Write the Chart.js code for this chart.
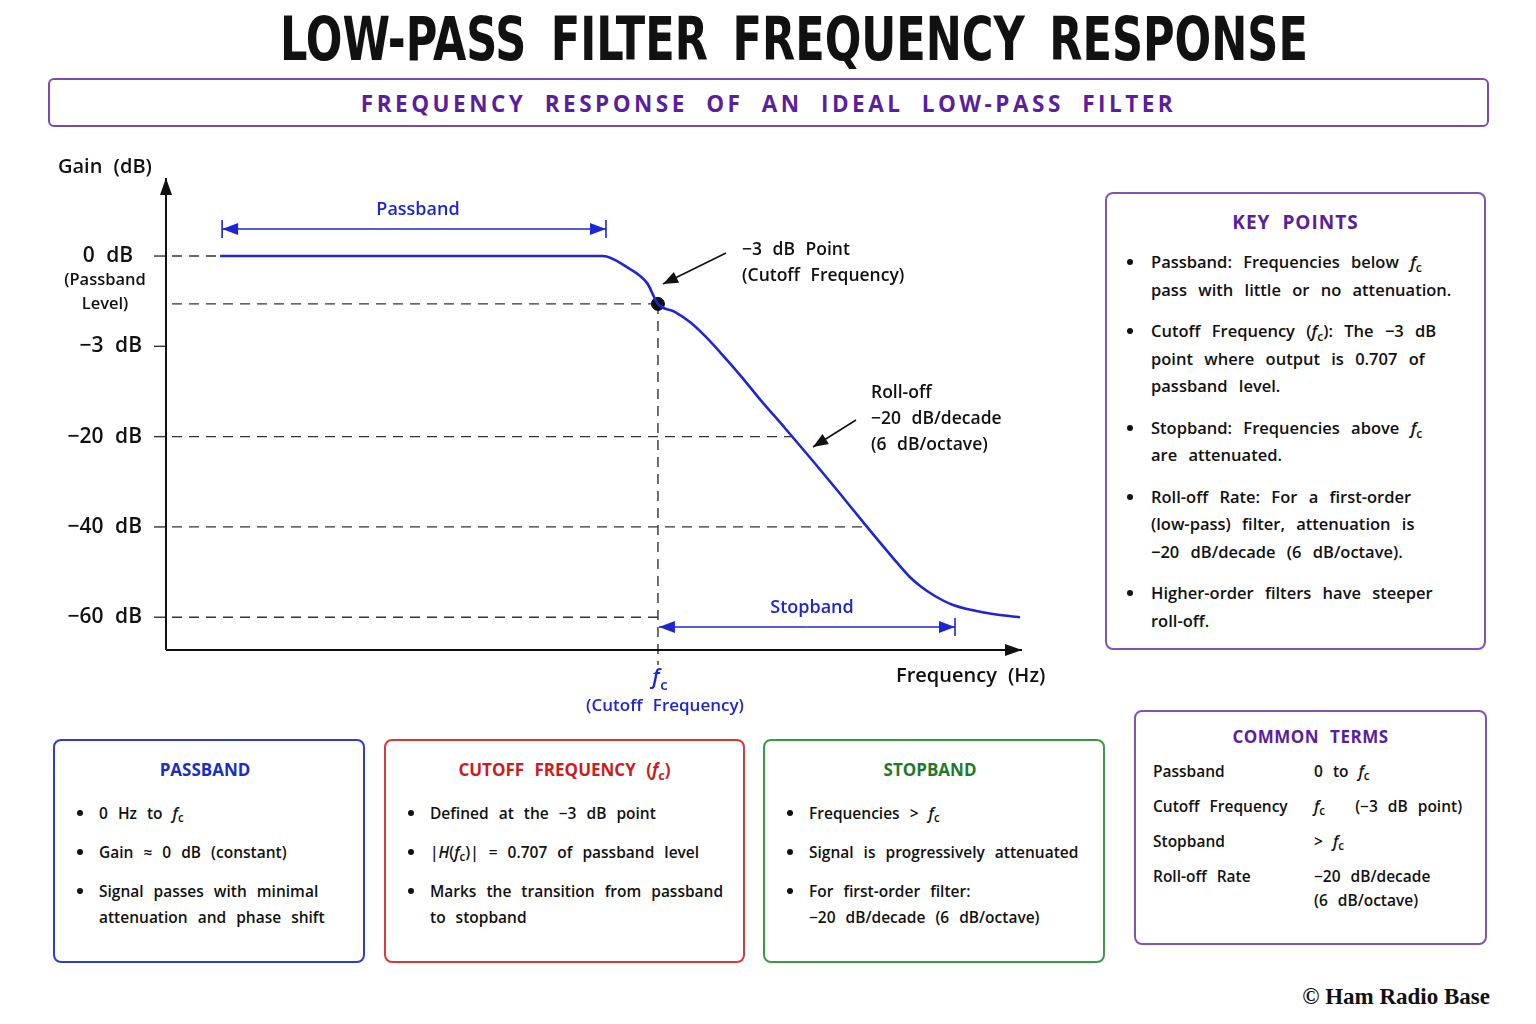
<!DOCTYPE html>
<html>
<head>
<meta charset="utf-8">
<script src="https://cdn.jsdelivr.net/npm/chart.js@4"></script>
<style>
  body { margin: 0; width: 1536px; height: 1024px; background: #fff; position: relative; overflow: hidden;
         font-family: "Open Sans", "Noto Sans", sans-serif; font-weight: 600; color: #111; word-spacing: 6px; }
  .abs { position: absolute; }
  #title { left: 280px; top: 4px; white-space: nowrap; font-family: "DejaVu Sans Condensed", "DejaVu Sans", sans-serif;
           font-stretch: condensed; font-weight: bold; font-size: 60px; line-height: 70px; color: #111; word-spacing: 12px;
           transform-origin: left top; }
  #sub { left: 48px; top: 78px; width: 1437px; height: 45px; border: 2px solid #7a4bb0; border-radius: 6px;
         text-align: center; line-height: 47px; font-size: 22.5px; font-weight: 700; color: #5a1e9e; letter-spacing: 3.5px; word-spacing: 9px; }
  .box { position: absolute; box-sizing: border-box; border: 2px solid; border-radius: 8px; background: #fff; }
  .box h3 { margin: 0; text-align: center; font-size: 17px; font-weight: 700; }
  .box ul { list-style: none; margin: 0; padding: 0; }
  .box li { position: relative; white-space: nowrap; }
  .box li::before { content: ""; position: absolute; width: 6px; height: 6px; border-radius: 50%; background: #111; }
  sub { font-size: 0.75em; vertical-align: -0.3em; line-height: 0; }
  i { font-style: italic; }
  #key { left: 1105px; top: 192px; width: 381px; height: 458px; border-color: #7f55b5; }
  #key h3 { color: #5a1e9e; font-size: 19px; margin-top: 16px; line-height: 24px; letter-spacing: 1px; }
  #key ul { margin-top: 14px; }
  #key li { padding-left: 44px; font-size: 16.5px; line-height: 27.5px; margin-bottom: 14px; word-spacing: 7px; }
  #key li::before { left: 20px; top: 11px; }
  #terms { left: 1134px; top: 710px; width: 353px; height: 235px; border-color: #7f55b5; }
  #terms h3 { color: #5a1e9e; margin-top: 14px; line-height: 22px; letter-spacing: 0.5px; }
  .row { display: flex; font-size: 15.5px; line-height: 24px; margin-left: 17px; white-space: nowrap; }
  .row .k { width: 161px; }
  .low { left: 0; top: 739px; height: 224px; }
  .low h3 { margin-top: 18px; line-height: 22px; }
  .low ul { margin-top: 19px; }
  .low li { padding-left: 44px; font-size: 15.5px; line-height: 26px; margin-bottom: 13px; }
  .low li::before { left: 22px; top: 10px; }
  #pb { left: 53px; width: 312px; border-color: #2a3fcf; }
  #pb h3 { color: #1a2fc0; margin-right: 8px; }
  #cf { left: 384px; width: 361px; border-color: #d63a3a; }
  #cf h3 { color: #c81e1e; }
  #sb { left: 763px; width: 342px; border-color: #3a9a48; }
  #sb h3 { color: #1e7a2a; margin-right: 8px; }
  #foot { right: 46px; top: 984px; font-family: "Liberation Serif", serif; font-weight: bold; font-size: 23px; word-spacing: 0; color: #111; }
  #chart { position: absolute; left: 0; top: 0; }
</style>
</head>
<body>
<div id="title" class="abs">LOW-PASS FILTER FREQUENCY RESPONSE</div>
<div id="sub" class="abs">FREQUENCY RESPONSE OF AN IDEAL LOW-PASS FILTER</div>

<canvas id="chart" width="1100" height="730"></canvas>

<div id="key" class="box">
  <h3>KEY POINTS</h3>
  <ul>
    <li>Passband: Frequencies below <i>f</i><sub>c</sub><br>pass with little or no attenuation.</li>
    <li>Cutoff Frequency (<i>f</i><sub>c</sub>): The −3 dB<br>point where output is 0.707 of<br>passband level.</li>
    <li>Stopband: Frequencies above <i>f</i><sub>c</sub><br>are attenuated.</li>
    <li>Roll-off Rate: For a first-order<br>(low-pass) filter, attenuation is<br>−20 dB/decade (6 dB/octave).</li>
    <li>Higher-order filters have steeper<br>roll-off.</li>
  </ul>
</div>

<div id="terms" class="box">
  <h3>COMMON TERMS</h3>
  <div style="height:11px"></div>
  <div class="row"><span class="k">Passband</span><span>0 to <i>f</i><sub>c</sub></span></div>
  <div style="height:11px"></div>
  <div class="row"><span class="k">Cutoff Frequency</span><span><i>f</i><sub>c</sub> &nbsp; (−3 dB point)</span></div>
  <div style="height:11px"></div>
  <div class="row"><span class="k">Stopband</span><span>&gt; <i>f</i><sub>c</sub></span></div>
  <div style="height:11px"></div>
  <div class="row"><span class="k">Roll-off Rate</span><span>−20 dB/decade<br>(6 dB/octave)</span></div>
</div>

<div id="pb" class="box low">
  <h3>PASSBAND</h3>
  <ul>
    <li>0 Hz to <i>f</i><sub>c</sub></li>
    <li>Gain ≈ 0 dB (constant)</li>
    <li>Signal passes with minimal<br>attenuation and phase shift</li>
  </ul>
</div>
<div id="cf" class="box low">
  <h3>CUTOFF FREQUENCY (<i>f</i><sub>c</sub>)</h3>
  <ul>
    <li>Defined at the −3 dB point</li>
    <li>|<i>H</i>(<i>f</i><sub>c</sub>)| = 0.707 of passband level</li>
    <li>Marks the transition from passband<br>to stopband</li>
  </ul>
</div>
<div id="sb" class="box low">
  <h3>STOPBAND</h3>
  <ul>
    <li>Frequencies &gt; <i>f</i><sub>c</sub></li>
    <li>Signal is progressively attenuated</li>
    <li>For first-order filter:<br>−20 dB/decade (6 dB/octave)</li>
  </ul>
</div>

<div id="foot" class="abs">© Ham Radio Base</div>

<script>
// frequency in units of f/fc, gain in dB
const FREQ = [0.110, 0.801, 0.888, 0.937, 0.978, 1.000, 1.035, 1.065, 1.096, 1.126, 1.167, 1.207, 1.258, 1.315, 1.364, 1.425, 1.478, 1.512, 1.533, 1.563, 1.600, 1.669, 1.736];
const GAIN_DB = [0, 0, 0, -0.37, -0.90, -1.59, -1.86, -2.19, -2.66, -4.07, -8.41, -12.93, -18.38, -25.40, -31.83, -40.0, -46.90, -51.10, -53.08, -55.30, -57.30, -59.07, -60.0];
const TICK_DB = [0, -3, -20, -40, -60];
const TICK_LABELS = ['0 dB', '−3 dB', '−20 dB', '−40 dB', '−60 dB'];
const CUTOFF_F = 1.0;
const CUTOFF_DB = -1.59;

const BLUE = '#1c26d2';
const FONT = '"Open Sans", "Noto Sans", sans-serif';

// the gain axis is schematic: each labelled dB value gets one equal step
function level(db) {
  let i = 0;
  while (i < TICK_DB.length - 2 && db < TICK_DB[i + 1]) i++;
  return -(i + (TICK_DB[i] - db) / (TICK_DB[i] - TICK_DB[i + 1]));
}

// frequency where the curve first falls to a given gain
function crossing(db) {
  for (let i = 0; i < GAIN_DB.length - 1; i++) {
    if (GAIN_DB[i] >= db && GAIN_DB[i + 1] <= db) {
      if (GAIN_DB[i] === GAIN_DB[i + 1]) return FREQ[i];
      return FREQ[i] + (GAIN_DB[i] - db) / (GAIN_DB[i] - GAIN_DB[i + 1]) * (FREQ[i + 1] - FREQ[i]);
    }
  }
  return FREQ[FREQ.length - 1];
}

function arrowHead(ctx, x1, y1, x2, y2, len, half) {
  const a = Math.atan2(y2 - y1, x2 - x1);
  ctx.beginPath();
  ctx.moveTo(x2, y2);
  ctx.lineTo(x2 - len * Math.cos(a) + half * Math.sin(a), y2 - len * Math.sin(a) - half * Math.cos(a));
  ctx.lineTo(x2 - len * Math.cos(a) - half * Math.sin(a), y2 - len * Math.sin(a) + half * Math.cos(a));
  ctx.closePath();
  ctx.fill();
}

function arrow(ctx, x1, y1, x2, y2, len, half) {
  ctx.beginPath();
  ctx.moveTo(x1, y1);
  ctx.lineTo(x2, y2);
  ctx.stroke();
  arrowHead(ctx, x1, y1, x2, y2, len, half);
}

function text(ctx, s, x, y, align, font, color) {
  ctx.font = font;
  ctx.fillStyle = color;
  ctx.textAlign = align;
  ctx.textBaseline = 'middle';
  ctx.fillText(s, x, y);
}

// dashed reference lines, drawn under the curve
const guides = {
  id: 'guides',
  beforeDatasetsDraw(chart) {
    const ctx = chart.ctx;
    const xs = chart.scales.x, ys = chart.scales.y;
    const x0 = xs.getPixelForValue(0);
    const fcx = xs.getPixelForValue(CUTOFF_F);
    const cy = ys.getPixelForValue(level(CUTOFF_DB));
    const ends = [xs.getPixelForValue(FREQ[0]), null, xs.getPixelForValue(crossing(-20)), xs.getPixelForValue(crossing(-40)), fcx];
    ctx.save();
    ctx.strokeStyle = '#333';
    ctx.lineWidth = 1.4;
    TICK_DB.forEach((db, i) => {
      const y = ys.getPixelForValue(level(db));
      ctx.setLineDash([]);
      ctx.beginPath(); ctx.moveTo(x0 - 12, y); ctx.lineTo(x0, y); ctx.stroke();
      if (ends[i] !== null) {
        ctx.setLineDash([10, 7]);
        ctx.beginPath(); ctx.moveTo(x0 + 6, y); ctx.lineTo(ends[i], y); ctx.stroke();
      }
    });
    ctx.setLineDash([10, 7]);
    ctx.beginPath(); ctx.moveTo(x0 + 6, cy); ctx.lineTo(fcx, cy); ctx.stroke();
    ctx.beginPath(); ctx.moveTo(fcx, cy); ctx.lineTo(fcx, chart.chartArea.bottom + 15); ctx.stroke();
    ctx.restore();
  }
};

// axes, arrows and labels
const notes = {
  id: 'notes',
  afterDraw(chart) {
    const ctx = chart.ctx;
    const xs = chart.scales.x, ys = chart.scales.y;
    const area = chart.chartArea;
    const x0 = xs.getPixelForValue(0);
    const fcx = xs.getPixelForValue(CUTOFF_F);
    ctx.save();
    ctx.wordSpacing = '6px';
    ctx.strokeStyle = '#111';
    ctx.fillStyle = '#111';
    ctx.lineWidth = 2;
    // axes
    arrow(ctx, x0, area.bottom, x0, area.top - 2, 17, 6);
    arrow(ctx, x0, area.bottom, area.right, area.bottom, 17, 6);
    text(ctx, 'Gain (dB)', 58, 167, 'left', '600 20px ' + FONT, '#111');
    text(ctx, 'Frequency (Hz)', 896, 676, 'left', '600 20px ' + FONT, '#111');

    // gain tick labels
    TICK_DB.forEach((db, i) => {
      const y = ys.getPixelForValue(level(db));
      if (i === 0) {
        text(ctx, TICK_LABELS[i], 108, y, 'center', '600 21px ' + FONT, '#111');
        text(ctx, '(Passband', 105, y + 24, 'center', '600 16.5px ' + FONT, '#111');
        text(ctx, 'Level)', 105, y + 48, 'center', '600 16.5px ' + FONT, '#111');
      } else {
        text(ctx, TICK_LABELS[i], 142, y, 'right', '600 21px ' + FONT, '#111');
      }
    });

    // passband / stopband spans
    ctx.strokeStyle = BLUE; ctx.fillStyle = BLUE; ctx.lineWidth = 1.6;
    const pL = xs.getPixelForValue(FREQ[0]) + 2, pR = 606, pY = 229;
    ctx.beginPath(); ctx.moveTo(pL, pY - 9); ctx.lineTo(pL, pY + 9); ctx.moveTo(pR, pY - 9); ctx.lineTo(pR, pY + 9); ctx.stroke();
    arrow(ctx, (pL + pR) / 2, pY, pL, pY, 16, 6);
    arrow(ctx, (pL + pR) / 2, pY, pR, pY, 16, 6);
    text(ctx, 'Passband', 418, 210, 'center', '600 18px ' + FONT, BLUE);

    const sR = 955, sY = 627;
    ctx.strokeStyle = BLUE; ctx.fillStyle = BLUE;
    ctx.beginPath(); ctx.moveTo(sR, sY - 9); ctx.lineTo(sR, sY + 9); ctx.stroke();
    arrow(ctx, (fcx + sR) / 2, sY, fcx + 1, sY, 16, 6);
    arrow(ctx, (fcx + sR) / 2, sY, sR, sY, 16, 6);
    text(ctx, 'Stopband', 812, 608, 'center', '600 18px ' + FONT, BLUE);

    // cutoff frequency label
    text(ctx, 'f', fcx - 2, 678, 'center', 'italic 600 21px ' + FONT, BLUE);
    text(ctx, 'c', fcx + 6, 686, 'center', '600 15px ' + FONT, BLUE);
    text(ctx, '(Cutoff Frequency)', 665, 706, 'center', '600 17px ' + FONT, BLUE);

    // callouts
    ctx.strokeStyle = '#111'; ctx.fillStyle = '#111'; ctx.lineWidth = 1.6;
    arrow(ctx, 726, 253, 663, 284, 15, 6);
    text(ctx, '−3 dB Point', 742, 250, 'left', '600 17.5px ' + FONT, '#111');
    text(ctx, '(Cutoff Frequency)', 742, 276, 'left', '600 17.5px ' + FONT, '#111');
    arrow(ctx, 856, 420, 813, 447, 15, 6);
    text(ctx, 'Roll-off', 871, 393, 'left', '600 17.5px ' + FONT, '#111');
    text(ctx, '−20 dB/decade', 871, 419, 'left', '600 17.5px ' + FONT, '#111');
    text(ctx, '(6 dB/octave)', 871, 445, 'left', '600 17.5px ' + FONT, '#111');
    ctx.restore();
  }
};

new Chart(document.getElementById('chart'), {
  type: 'line',
  data: {
    datasets: [
      {
        label: 'Gain',
        data: FREQ.map((f, i) => ({ x: f, y: level(GAIN_DB[i]) })),
        borderColor: BLUE,
        borderWidth: 2.6,
        pointRadius: 0,
        cubicInterpolationMode: 'monotone',
        fill: false
      },
      {
        label: 'Cutoff',
        type: 'scatter',
        data: [{ x: CUTOFF_F, y: level(CUTOFF_DB) }],
        pointRadius: 6.5,
        pointBackgroundColor: '#111',
        pointBorderColor: '#111'
      }
    ]
  },
  options: {
    responsive: false,
    animation: false,
    clip: false,
    layout: { padding: { left: 166, top: 180, right: 78, bottom: 80 } },
    plugins: { legend: { display: false }, tooltip: { enabled: false } },
    scales: {
      x: { type: 'linear', min: 0, max: 1.74, display: false },
      y: { type: 'linear', min: -4.363, max: 0.842, display: false }
    }
  },
  plugins: [guides, notes]
});

// squeeze the title into the width it takes in the reference
const title = document.getElementById('title');
title.style.transform = 'scaleX(' + (1028 / title.scrollWidth) + ')';
</script>
</body>
</html>
